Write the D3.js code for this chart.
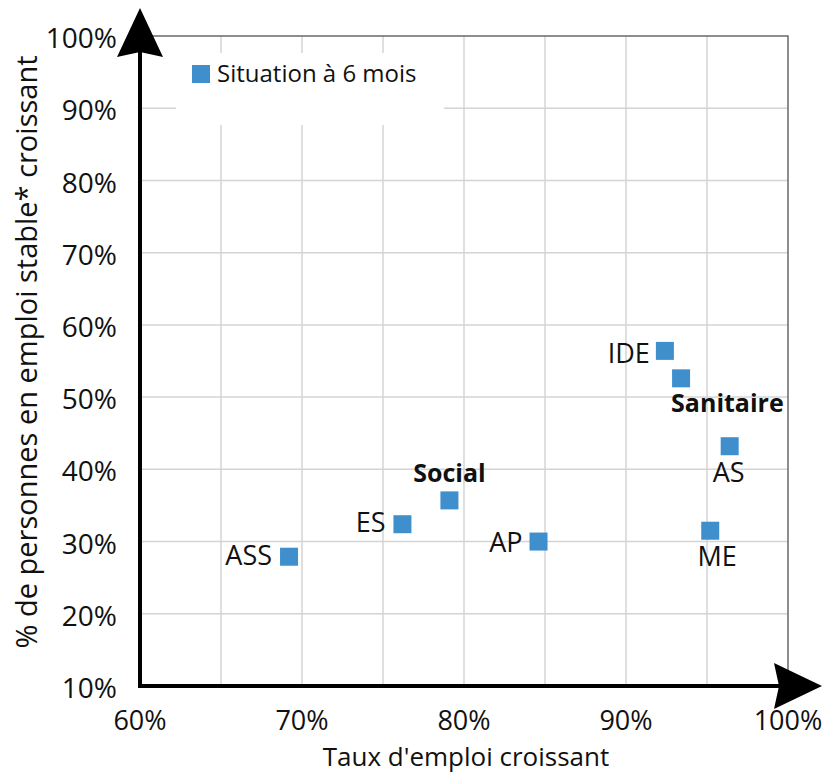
<!DOCTYPE html>
<html>
<head>
<meta charset="utf-8">
<script src="https://cdn.jsdelivr.net/npm/d3@7"></script>
<style>
  body { margin: 0; background: #fff; }
  text { font-family: "Open Sans", sans-serif; fill: #111; }
</style>
</head>
<body>
<div id="chart"></div>
<script>
// data
let names = ["ASS", "ES", "Social", "AP", "IDE", "Sanitaire", "AS", "ME"];
let tauxEmploi = [0.692, 0.762, 0.791, 0.846, 0.924, 0.934, 0.964, 0.952];
let emploiStable = [0.279, 0.324, 0.357, 0.300, 0.564, 0.526, 0.432, 0.315];
let groupes = ["Social", "Sanitaire"];
let xTicks = [0.6, 0.7, 0.8, 0.9, 1.0];
let yTicks = [0.1, 0.2, 0.3, 0.4, 0.5, 0.6, 0.7, 0.8, 0.9, 1.0];
let legendLabel = "Situation à 6 mois";

let width = 829;
let height = 774;
let blue = "#3f8fcd";

let svg = d3.select("#chart").append("svg")
  .attr("width", width)
  .attr("height", height);

let xScale = d3.scaleLinear().domain([0.6, 1.0]).range([140, 788]);
let yScale = d3.scaleLinear().domain([0.1, 1.0]).range([686, 36]);
let fmt = d3.format(".0%");

// grid
let xGrid = d3.range(0.65, 0.99, 0.05);
svg.append("g").selectAll("line").data(xGrid).enter().append("line")
  .attr("x1", d => xScale(d)).attr("x2", d => xScale(d))
  .attr("y1", yScale(1.0)).attr("y2", yScale(0.1))
  .attr("stroke", "#d4d4d4").attr("stroke-width", 1.5);
svg.append("g").selectAll("line").data(yTicks.slice(1, -1)).enter().append("line")
  .attr("x1", xScale(0.6)).attr("x2", xScale(1.0))
  .attr("y1", d => yScale(d)).attr("y2", d => yScale(d))
  .attr("stroke", "#d4d4d4").attr("stroke-width", 1.5);

// frame top / right
svg.append("path")
  .attr("d", "M" + xScale(0.6) + "," + yScale(1.0) + "H" + xScale(1.0) + "V" + yScale(0.1))
  .attr("fill", "none").attr("stroke", "#6a6a6a").attr("stroke-width", 1.5);

// legend
let lg = svg.append("g");
lg.append("rect").attr("x", 176).attr("y", 53).attr("width", 268).attr("height", 72).attr("fill", "#fff");
lg.append("rect").attr("x", 192).attr("y", 65).attr("width", 18).attr("height", 18).attr("fill", blue);
lg.append("text").attr("x", 217).attr("y", 82).attr("font-size", 24).text(legendLabel);

// axes with arrows
let x0 = xScale(0.6), y0 = yScale(0.1);
svg.append("line").attr("x1", x0).attr("x2", x0).attr("y1", y0 + 1.5).attr("y2", 40)
  .attr("stroke", "#000").attr("stroke-width", 4);
svg.append("line").attr("x1", x0 - 2).attr("x2", 790).attr("y1", y0).attr("y2", y0)
  .attr("stroke", "#000").attr("stroke-width", 4);
svg.append("path")
  .attr("d", "M" + x0 + ",8 L" + (x0 + 23) + ",57 L" + x0 + ",52 L" + (x0 - 23) + ",57 Z")
  .attr("fill", "#000");
svg.append("path")
  .attr("d", "M822," + y0 + " L774," + (y0 - 23) + " L779," + y0 + " L774," + (y0 + 23) + " Z")
  .attr("fill", "#000");

// tick labels
svg.append("g").selectAll("text").data(yTicks).enter().append("text")
  .attr("x", 117).attr("y", d => yScale(d) + 2).attr("dy", "0.36em")
  .attr("text-anchor", "end").attr("font-size", 28)
  .text(d => fmt(d));
svg.append("g").selectAll("text").data(xTicks).enter().append("text")
  .attr("x", d => xScale(d)).attr("y", 730)
  .attr("text-anchor", "middle").attr("font-size", 27)
  .text(d => fmt(d));

// axis titles
svg.append("text").attr("x", 466).attr("y", 766).attr("text-anchor", "middle")
  .attr("font-size", 26).text("Taux d'emploi croissant");
svg.append("text").attr("transform", "translate(37,352)rotate(-90)")
  .attr("text-anchor", "middle").attr("font-size", 29)
  .text("% de personnes en emploi stable* croissant");

// points
let points = names.map((n, i) => ({ name: n, x: tauxEmploi[i], y: emploiStable[i] }));
let size = 18;
svg.append("g").selectAll("rect").data(points).enter().append("rect")
  .attr("x", d => xScale(d.x) - size / 2)
  .attr("y", d => yScale(d.y) - size / 2)
  .attr("width", size).attr("height", size)
  .attr("fill", blue);

// label placement (offsets from the point centre)
let place = {
  ASS: [-17, 8, "end"], ES: [-17, 8, "end"], AP: [-16, 10, "end"], IDE: [-15, 12, "end"],
  Social: [0, -18, "middle"], Sanitaire: [-10, 34, "start"],
  AS: [-1, 36, "middle"], ME: [7, 35, "middle"]
};
svg.append("g").selectAll("text").data(points).enter().append("text")
  .attr("x", d => xScale(d.x) + place[d.name][0])
  .attr("y", d => yScale(d.y) + place[d.name][1])
  .attr("text-anchor", d => place[d.name][2])
  .attr("font-size", d => groupes.includes(d.name) ? 25 : 27)
  .attr("font-weight", d => groupes.includes(d.name) ? "bold" : "normal")
  .text(d => d.name);
</script>
</body>
</html>
